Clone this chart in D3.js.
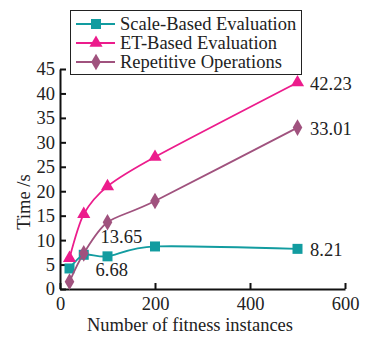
<!DOCTYPE html>
<html>
<head>
<meta charset="utf-8">
<script src="https://cdn.jsdelivr.net/npm/d3@7"></script>
</head>
<body style="margin:0">
<script>
// chart data
let instances = [20, 50, 100, 200, 500];
let seriesNames = ['Scale-Based Evaluation', 'ET-Based Evaluation', 'Repetitive Operations'];
let scaleBased = [4.2, 7.0, 6.68, 8.7, 8.21];
let etBased = [6.3, 15.3, 21.0, 27.0, 42.23];
let repetitive = [1.5, 7.3, 13.65, 18.0, 33.01];
let xTicks = [0, 200, 400, 600];
let yTicks = [0, 5, 10, 15, 20, 25, 30, 35, 40, 45];
// labelled points: [series index, point index, text]
let valueLabels = [
    [0, 2, '6.68'],
    [0, 4, '8.21'],
    [1, 4, '42.23'],
    [2, 2, '13.65'],
    [2, 4, '33.01']
];

let chartColors = ['#129ca0', '#ec1c8c', '#a0527e'];
let allSeries = [scaleBased, etBased, repetitive];
let serifFont = 'Liberation Serif';
let fontSize = 18.5;

let chartMargins = {top: 69, right: 20, bottom: 49, left: 60},
    baseWidth = 365,
    baseHeight = 338,
    width = baseWidth - chartMargins.left - chartMargins.right,
    height = baseHeight - chartMargins.top - chartMargins.bottom;

let svg = d3.select('body').append('svg')
    .attr('width', baseWidth)
    .attr('height', baseHeight)
    .attr('font-family', serifFont);

let chartLayer = svg.append('g')
    .attr('transform', 'translate(' + chartMargins.left + ',' + chartMargins.top + ')');

let x = d3.scaleLinear().domain([0, 600]).range([0, 285]);
let y = d3.scaleLinear().domain([0, 45]).range([height, 0]);

// x axis
let xAxisGroup = chartLayer.append('g')
    .attr('transform', 'translate(0,' + height + ')')
    .call(d3.axisBottom(x).tickValues(xTicks).tickSize(-6).tickPadding(8).tickSizeOuter(0));
xAxisGroup.attr('font-family', serifFont).attr('font-size', fontSize);
xAxisGroup.selectAll('text').attr('fill', '#222').attr('font-family', serifFont);
xAxisGroup.selectAll('line, path').attr('stroke', '#111').attr('stroke-width', 2);

// y axis
let yAxisGroup = chartLayer.append('g')
    .call(d3.axisLeft(y).tickValues(yTicks).tickSize(-6).tickPadding(5).tickSizeOuter(0));
yAxisGroup.attr('font-family', serifFont).attr('font-size', fontSize);
yAxisGroup.selectAll('text').attr('fill', '#222').attr('font-family', serifFont);
yAxisGroup.selectAll('line, path').attr('stroke', '#111').attr('stroke-width', 2);

// axis titles
svg.append('text')
    .attr('x', 190)
    .attr('y', 331)
    .attr('text-anchor', 'middle')
    .attr('font-family', serifFont)
    .attr('font-size', fontSize)
    .attr('fill', '#222')
    .text('Number of fitness instances');

svg.append('text')
    .attr('transform', 'translate(30,202) rotate(-90)')
    .attr('text-anchor', 'middle')
    .attr('font-family', serifFont)
    .attr('font-size', fontSize)
    .attr('fill', '#222')
    .text('Time /s');

let valueLine = d3.line()
    .x(function(d, i) { return x(instances[i]); })
    .y(function(d) { return y(d); })
    .curve(d3.curveCardinal.tension(0.2));

let symbols = [d3.symbolSquare, d3.symbolTriangle, d3.symbolDiamond];
let symbolSizes = [100, 75, 80];

allSeries.forEach((values, index) => {
    chartLayer.append('path')
        .datum(values)
        .attr('d', valueLine)
        .attr('fill', 'none')
        .attr('stroke', chartColors[index])
        .attr('stroke-width', 1.8);

    chartLayer.selectAll('.marker' + index)
        .data(values)
        .enter().append('path')
        .attr('class', 'marker' + index)
        .attr('transform', function(d, i) { return 'translate(' + x(instances[i]) + ',' + y(d) + ')'; })
        .attr('d', d3.symbol().type(symbols[index]).size(symbolSizes[index]))
        .attr('fill', chartColors[index]);
});

// value labels
valueLabels.forEach((lbl) => {
    let value = allSeries[lbl[0]][lbl[1]];
    let px = x(instances[lbl[1]]);
    let py = y(value);
    let dx = 12.5, dy = 7;
    if (lbl[1] === 2 && lbl[0] === 0) { dx = -12; dy = 20; }
    if (lbl[1] === 2 && lbl[0] === 2) { dx = -7; dy = 21; }
    chartLayer.append('text')
        .attr('x', px + dx)
        .attr('y', py + dy)
        .attr('font-family', serifFont)
        .attr('font-size', fontSize)
        .attr('fill', '#222')
        .text(lbl[2]);
});

// legend
let legend = svg.append('g').attr('transform', 'translate(70,10)');
legend.append('rect')
    .attr('x', 0.5).attr('y', 0.5)
    .attr('width', 231).attr('height', 64)
    .attr('fill', '#fff')
    .attr('stroke', '#222')
    .attr('stroke-width', 1);

seriesNames.forEach((name, index) => {
    let ly = 14 + index * 19;
    legend.append('line')
        .attr('x1', 6).attr('x2', 45)
        .attr('y1', ly).attr('y2', ly)
        .attr('stroke', chartColors[index])
        .attr('stroke-width', 1.8);
    legend.append('path')
        .attr('transform', 'translate(26,' + ly + ')')
        .attr('d', d3.symbol().type(symbols[index]).size(symbolSizes[index]))
        .attr('fill', chartColors[index]);
    legend.append('text')
        .attr('x', 50)
        .attr('y', ly + 6)
        .attr('font-family', serifFont)
        .attr('font-size', fontSize)
        .attr('fill', '#222')
        .text(name);
});
</script>
</body>
</html>
